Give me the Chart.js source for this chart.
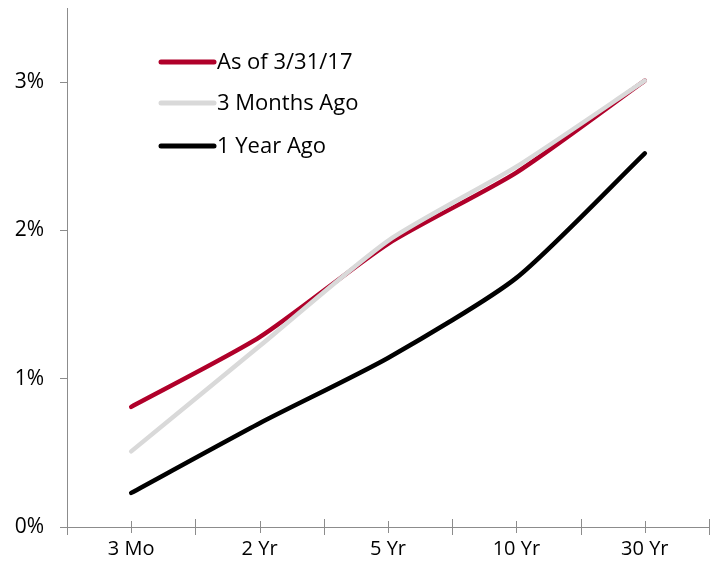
<!DOCTYPE html>
<html>
<head>
<meta charset="utf-8">
<script src="https://cdn.jsdelivr.net/npm/chart.js@4"></script>
<style>
  html, body { margin: 0; padding: 0; background: #fff; }
  #wrap { width: 713px; height: 571px; }
</style>
</head>
<body>
<div id="wrap"><canvas id="chart"></canvas></div>
<script>
const categories = ["3 Mo", "2 Yr", "5 Yr", "10 Yr", "30 Yr"];
const seriesNames = ["As of 3/31/17", "3 Months Ago", "1 Year Ago"];
const current = [0.81, 1.28, 1.91, 2.39, 3.01];
const threeMonthsAgo = [0.51, 1.22, 1.93, 2.43, 3.01];
const oneYearAgo = [0.23, 0.70, 1.14, 1.68, 2.52];
const yTicks = [0, 1, 2, 3];

const colors = ["#b0002a", "#d9d9d9", "#000000"];
const font = "'Open Sans', 'Liberation Sans', sans-serif";

// legend drawn inside plot, top-left, in series order
const insideLegend = {
  id: "insideLegend",
  afterDraw(chart) {
    const ctx = chart.ctx;
    const rows = [62, 103, 146];
    ctx.save();
    ctx.font = "22px " + font;
    ctx.textBaseline = "middle";
    seriesNames.forEach((name, i) => {
      ctx.strokeStyle = colors[i];
      ctx.lineWidth = 5;
      ctx.lineCap = "round";
      ctx.beginPath();
      ctx.moveTo(161, rows[i]);
      ctx.lineTo(214, rows[i]);
      ctx.stroke();
      ctx.fillStyle = "#000";
      ctx.fillText(name, 217, rows[i] + 1);
    });
    ctx.restore();
  }
};

// tick marks crossing the x axis, at boundaries and at categories
const crossTicks = {
  id: "crossTicks",
  afterDraw(chart) {
    const x = chart.scales.x, ctx = chart.ctx;
    const y0 = chart.chartArea.bottom;
    const half = (x.getPixelForValue(1) - x.getPixelForValue(0)) / 2;
    ctx.save();
    ctx.strokeStyle = "#8c8c8c";
    ctx.lineWidth = 1;
    categories.forEach((c, i) => {
      const px = Math.round(x.getPixelForValue(i)) + 0.5;
      ctx.beginPath();
      ctx.moveTo(px, y0 - 6); ctx.lineTo(px, y0 + 6);
      const bx = Math.round(x.getPixelForValue(i) + half) + 0.5;
      ctx.moveTo(bx, y0 - 8); ctx.lineTo(bx, y0 + 8);
      ctx.stroke();
    });
    ctx.beginPath();
    ctx.moveTo(chart.chartArea.left + 0.5, y0); ctx.lineTo(chart.chartArea.left + 0.5, y0 + 8);
    ctx.stroke();
    ctx.restore();
  }
};

new Chart(document.getElementById("chart"), {
  type: "line",
  data: {
    labels: categories,
    datasets: [
      { label: seriesNames[2], data: oneYearAgo, borderColor: colors[2] },
      { label: seriesNames[1], data: threeMonthsAgo, borderColor: colors[1] },
      { label: seriesNames[0], data: current, borderColor: colors[0] }
    ].map(d => Object.assign(d, {
      borderWidth: 4.5,
      pointRadius: 0,
      tension: 0.22,
      borderCapStyle: "round",
      fill: false
    }))
  },
  options: {
    responsive: true,
    maintainAspectRatio: false,
    animation: false,
    layout: { padding: { top: 8, right: 4, left: 0, bottom: 0 } },
    plugins: {
      legend: { display: false },
      tooltip: { enabled: false }
    },
    scales: {
      x: {
        offset: true,
        grid: { offset: true, drawOnChartArea: false, drawTicks: false, color: "#8c8c8c" },
        border: { color: "#8c8c8c", width: 1 },
        ticks: { color: "#000", font: { family: font, size: 20 }, padding: 10 },
        afterFit(s) { s.height = 44; s.paddingLeft = 0; s.paddingRight = 0; }
      },
      y: {
        min: 0,
        max: 3.5,
        afterBuildTicks(s) { s.ticks = yTicks.map(v => ({ value: v })); },
        grid: { drawOnChartArea: false, drawTicks: true, tickLength: 7, color: "#8c8c8c" },
        border: { color: "#8c8c8c", width: 1 },
        ticks: {
          color: "#000",
          font: { family: font, size: 21 },
          padding: 16,
          callback: v => v + "%"
        },
        afterFit(s) { s.width = 67; s.paddingTop = 0; s.paddingBottom = 0; }
      }
    }
  },
  plugins: [insideLegend, crossTicks]
});
</script>
</body>
</html>
